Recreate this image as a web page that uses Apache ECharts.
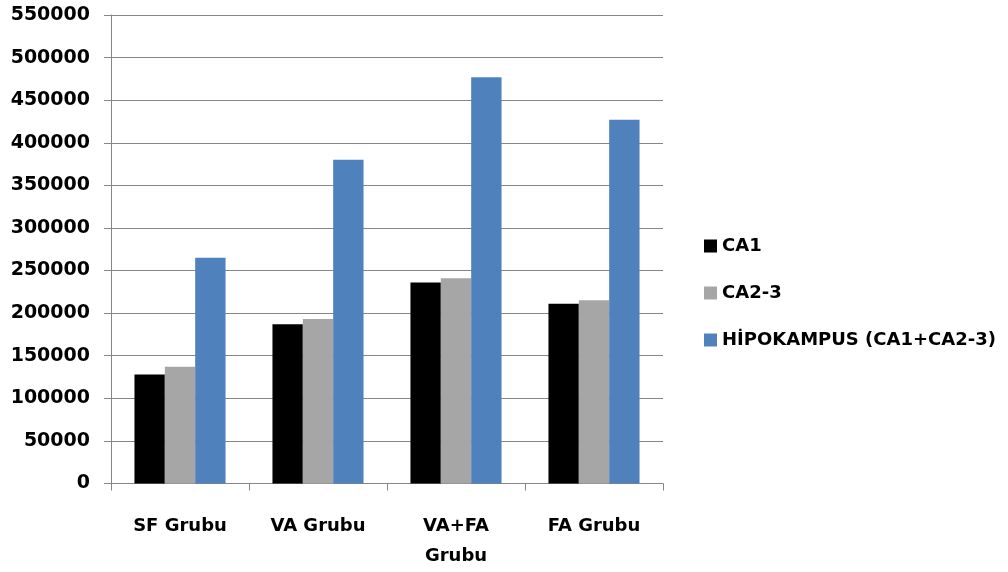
<!DOCTYPE html>
<html>
<head>
<meta charset="utf-8">
<script src="https://cdn.jsdelivr.net/npm/echarts@6/dist/echarts.min.js"></script>
<style>
  html, body { margin: 0; padding: 0; background: #ffffff; }
  #chart { width: 1008px; height: 572px; }
</style>
</head>
<body>
<div id="chart"></div>
<script>
// Groups on the x axis
const categories = ['SF Grubu', 'VA Grubu', 'VA+FA\nGrubu', 'FA Grubu'];

// Series names and values
const seriesNames = ['CA1', 'CA2-3', 'HİPOKAMPUS (CA1+CA2-3)'];
const ca1 = [128000, 187000, 236000, 211000];
const ca23 = [137000, 193000, 241000, 215000];
const hipokampus = [265000, 380000, 477000, 427000];

// Value axis range
const yMin = 0;
const yMax = 550000;
const yStep = 50000;

const seriesColors = ['#000000', '#a6a6a6', '#4f81bd'];
const seriesData = [ca1, ca23, hipokampus];

const font = 'DejaVu Sans';
const axisGrey = '#868686';

const chart = echarts.init(document.getElementById('chart'), null, { renderer: 'canvas' });

chart.setOption({
  animation: false,
  backgroundColor: '#ffffff',
  color: seriesColors,
  grid: { left: 111, top: 15, right: 345, bottom: 88.5, containLabel: false },
  legend: {
    orient: 'vertical',
    left: 699,
    top: 232,
    icon: 'rect',
    itemWidth: 13,
    itemHeight: 13,
    itemGap: 29,
    textStyle: { fontFamily: font, fontWeight: 'bold', fontSize: 18, color: '#000' },
    data: seriesNames
  },
  xAxis: {
    type: 'category',
    data: categories,
    axisLine: { show: true, lineStyle: { color: axisGrey, width: 1 } },
    axisTick: { show: true, length: 7, lineStyle: { color: axisGrey } },
    axisLabel: {
      margin: 28,
      fontFamily: font,
      fontWeight: 'bold',
      fontSize: 18,
      color: '#000',
      lineHeight: 30
    },
    splitLine: { show: false }
  },
  yAxis: {
    type: 'value',
    min: yMin,
    max: yMax,
    interval: yStep,
    axisLine: { show: true, lineStyle: { color: axisGrey, width: 1 } },
    axisTick: { show: true, length: 7, lineStyle: { color: axisGrey } },
    axisLabel: {
      margin: 21,
      fontFamily: font,
      fontWeight: 'bold',
      fontSize: 19,
      color: '#000',
      formatter: (v) => String(v)
    },
    splitLine: { show: true, lineStyle: { color: axisGrey, width: 1 } }
  },
  series: seriesNames.map((name, i) => ({
    name: name,
    type: 'bar',
    data: seriesData[i],
    barGap: '0%',
    barCategoryGap: '34%',
    itemStyle: { color: seriesColors[i] }
  }))
});
</script>
</body>
</html>
